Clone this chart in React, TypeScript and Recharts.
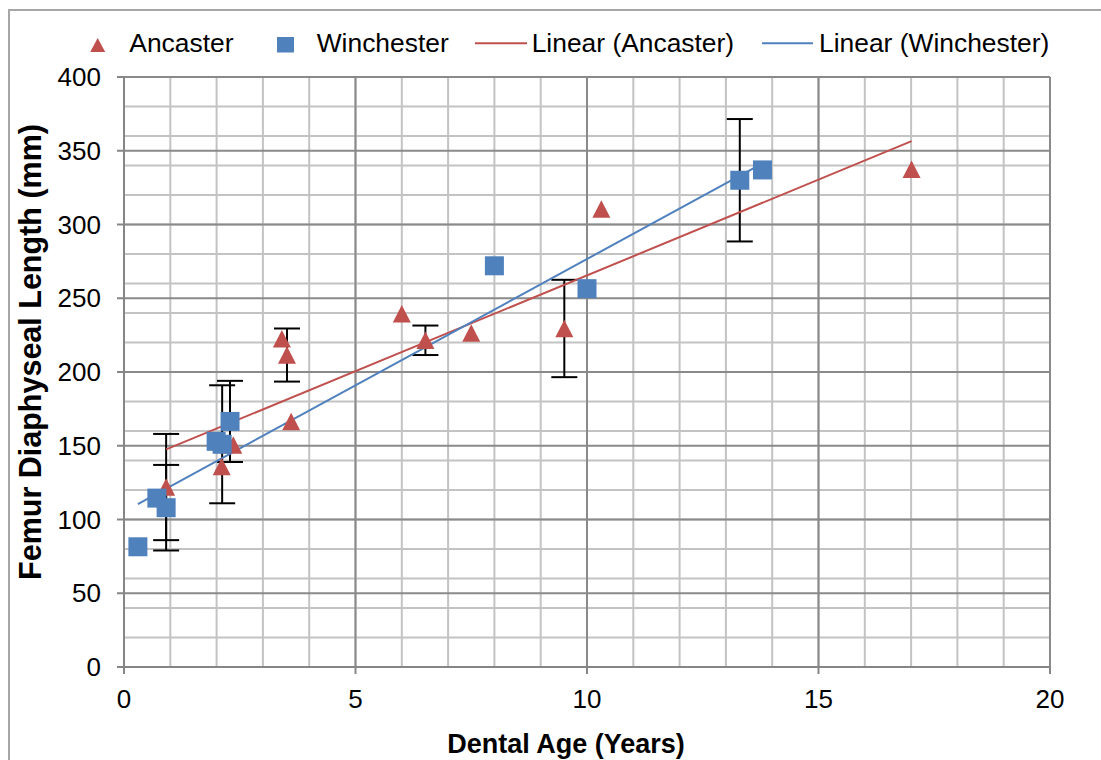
import React from 'react';
import { ScatterChart, Scatter, XAxis, YAxis, CartesianGrid, ErrorBar } from 'recharts';

const FONT = '"Liberation Sans", Arial, Helvetica, sans-serif';
const RED = '#C0504D';
const BLUE = '#4F81BD';

// Ancaster (triangles)
const ancasterAge = [0.91, 2.11, 2.36, 3.41, 3.52, 3.61, 6.0, 6.51, 7.5, 9.51, 10.31, 17.01];
const ancasterLength = [122, 136, 150.5, 222.5, 211.5, 166.5, 239.5, 221.5, 226.5, 229.5, 310.5, 337.5];
const ancasterError: (number | null)[] = [36, null, 0, 0, 18, 0, 0, 10, 0, 33, null, null];

// Winchester (squares)
const winchesterAge = [0.3, 0.71, 0.91, 1.99, 2.12, 2.29, 8.0, 10.0, 13.3, 13.79];
const winchesterLength = [81.5, 114.5, 108, 153, 151, 166.5, 272, 256.5, 330, 337];
const winchesterError: (number | null)[] = [null, null, 29, null, 40, 27.5, null, null, 41.5, null];

// Linear trend lines (end points)
const ancasterTrendAge = [0.91, 17.01];
const ancasterTrendLength = [147.5, 356.5];
const winchesterTrendAge = [0.3, 13.79];
const winchesterTrendLength = [110.5, 341.5];

// Axis ticks
const xTicks = [0, 5, 10, 15, 20];
const yTicks = [0, 50, 100, 150, 200, 250, 300, 350, 400];
const xMinor = Array.from({ length: 21 }, (_, i) => i);
const yMinor = Array.from({ length: 41 }, (_, i) => i * 10);

const ancasterData = ancasterAge.map((x, i) => ({ x, y: ancasterLength[i], err: ancasterError[i] }));
const winchesterData = winchesterAge.map((x, i) => ({ x, y: winchesterLength[i], err: winchesterError[i] }));
const ancasterErrData = ancasterData.filter((d) => d.err !== null);
const winchesterErrData = winchesterData.filter((d) => d.err !== null);
const ancasterTrend = ancasterTrendAge.map((x, i) => ({ x, y: ancasterTrendLength[i] }));
const winchesterTrend = winchesterTrendAge.map((x, i) => ({ x, y: winchesterTrendLength[i] }));

const Square = (p: any) => (
  <rect x={p.cx - 9.5} y={p.cy - 9.5} width={19} height={19} fill={BLUE} />
);
const Triangle = (p: any) => (
  <polygon
    points={`${p.cx},${p.cy - 8.75} ${p.cx + 9},${p.cy + 8.75} ${p.cx - 9},${p.cy + 8.75}`}
    fill={RED}
  />
);
const Empty = () => <g />;

const tickStyle = { fill: '#000', fontSize: 26, fontFamily: FONT };

export default function App() {
  return (
    <div
      style={{
        position: 'absolute',
        left: 0,
        top: 0,
        width: 1101,
        height: 760,
        overflow: 'hidden',
        background: '#fff',
        fontFamily: FONT,
      }}
    >
      <div
        style={{
          position: 'absolute',
          left: 8,
          top: 9,
          width: 1200,
          height: 900,
          border: '2px solid #a6a6a6',
          boxSizing: 'border-box',
        }}
      />
      <div style={{ position: 'absolute', left: 0, top: 0 }}>
        <ScatterChart width={1101} height={760} margin={{ top: 77, right: 51, bottom: 0, left: 0 }}>
          <CartesianGrid
            horizontalValues={yMinor}
            verticalValues={xMinor}
            stroke="#c3c3c3"
            strokeWidth={2}
            fill="none"
          />
          <CartesianGrid
            horizontalValues={yTicks}
            verticalValues={xTicks}
            stroke="#8a8a8a"
            strokeWidth={2}
            fill="none"
          />
          <XAxis
            type="number"
            dataKey="x"
            domain={[0, 20]}
            ticks={xTicks}
            allowDataOverflow
            height={93}
            tick={tickStyle}
            tickSize={7}
            tickMargin={16}
            axisLine={{ stroke: '#868686', strokeWidth: 2 }}
            tickLine={{ stroke: '#868686', strokeWidth: 2 }}
          />
          <YAxis
            type="number"
            dataKey="y"
            domain={[0, 400]}
            ticks={yTicks}
            allowDataOverflow
            width={124}
            tick={tickStyle}
            tickSize={7}
            tickMargin={16}
            axisLine={{ stroke: '#868686', strokeWidth: 2 }}
            tickLine={{ stroke: '#868686', strokeWidth: 2 }}
          />
          <Scatter name="Ancaster error" data={ancasterErrData} shape={Empty} isAnimationActive={false} legendType="none">
            <ErrorBar dataKey="err" direction="y" width={13} stroke="#000" strokeWidth={2} isAnimationActive={false} />
          </Scatter>
          <Scatter name="Winchester error" data={winchesterErrData} shape={Empty} isAnimationActive={false} legendType="none">
            <ErrorBar dataKey="err" direction="y" width={13} stroke="#000" strokeWidth={2} isAnimationActive={false} />
          </Scatter>
          <Scatter
            name="Linear (Ancaster)"
            data={ancasterTrend}
            line={{ stroke: RED, strokeWidth: 2 }}
            shape={Empty}
            isAnimationActive={false}
          />
          <Scatter
            name="Linear (Winchester)"
            data={winchesterTrend}
            line={{ stroke: BLUE, strokeWidth: 2 }}
            shape={Empty}
            isAnimationActive={false}
          />
          <Scatter name="Ancaster" data={ancasterData} shape={Triangle} isAnimationActive={false} />
          <Scatter name="Winchester" data={winchesterData} shape={Square} isAnimationActive={false} />
        </ScatterChart>
      </div>
      <svg
        width={1101}
        height={760}
        style={{ position: 'absolute', left: 0, top: 0, pointerEvents: 'none' }}
      >
        <g fontFamily={FONT} fontSize={26.4} fill="#000">
          <polygon points="90.2,52 105.2,52 97.7,38" fill={RED} />
          <text x={129.3} y={52.3}>Ancaster</text>
          <rect x={277} y={37} width={17} height={15.5} fill={BLUE} />
          <text x={316.7} y={52.3}>Winchester</text>
          <line x1={475} y1={43.3} x2={527} y2={43.3} stroke={RED} strokeWidth={2} />
          <text x={531.7} y={52.3}>Linear (Ancaster)</text>
          <line x1={762} y1={43.3} x2={813} y2={43.3} stroke={BLUE} strokeWidth={2} />
          <text x={819} y={52.3}>Linear (Winchester)</text>
        </g>
        <text
          x={566}
          y={753}
          textAnchor="middle"
          fontFamily={FONT}
          fontSize={27}
          fontWeight="bold"
          fill="#000"
        >
          Dental Age (Years)
        </text>
        <text
          x={41}
          y={352}
          transform="rotate(-90, 41, 352)"
          textAnchor="middle"
          fontFamily={FONT}
          fontSize={30.5}
          fontWeight="bold"
          fill="#000"
        >
          Femur Diaphyseal Length (mm)
        </text>
      </svg>
    </div>
  );
}
